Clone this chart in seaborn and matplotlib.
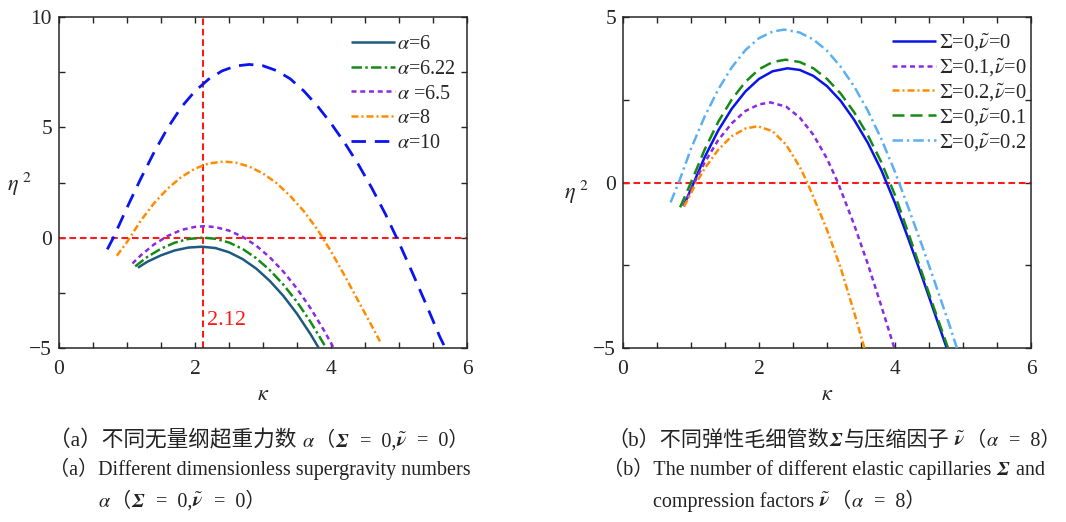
import matplotlib
matplotlib.use("Agg")
import matplotlib.pyplot as plt
from matplotlib.ticker import MultipleLocator
from matplotlib.offsetbox import TextArea, HPacker, AnchoredOffsetbox
import seaborn as sns

# ---------------- panel (a): different supergravity numbers alpha ----------------
kappa_a6 = [1.16, 1.3, 1.5, 1.7, 1.9, 2.1, 2.3, 2.5, 2.7, 2.9, 3.1, 3.3, 3.5, 3.7, 3.82]
eta_a6 = [-1.36, -1.09, -0.80, -0.58, -0.45, -0.41, -0.47, -0.66, -0.97, -1.40, -1.96,
          -2.64, -3.45, -4.38, -5.0]

kappa_a622 = [1.12, 1.3, 1.5, 1.7, 1.9, 2.12, 2.3, 2.5, 2.7, 2.9, 3.1, 3.3, 3.5, 3.7, 3.93]
eta_a622 = [-1.30, -0.87, -0.50, -0.23, -0.06, 0.0, -0.05, -0.22, -0.51, -0.93, -1.47,
            -2.13, -2.91, -3.82, -5.0]

kappa_a65 = [1.08, 1.2, 1.4, 1.6, 1.8, 2.0, 2.14, 2.3, 2.5, 2.7, 2.9, 3.1, 3.3, 3.5, 3.7,
             3.9, 4.04]
eta_a65 = [-1.17, -0.81, -0.30, 0.08, 0.35, 0.49, 0.52, 0.48, 0.32, 0.04, -0.36, -0.89,
           -1.54, -2.31, -3.20, -4.22, -5.0]

kappa_a8 = [0.85, 1.0, 1.2, 1.4, 1.6, 1.8, 2.0, 2.2, 2.42, 2.6, 2.8, 3.0, 3.2, 3.4, 3.6,
            3.8, 4.0, 4.2, 4.4, 4.6, 4.72]
eta_a8 = [-0.82, -0.20, 0.76, 1.57, 2.23, 2.75, 3.13, 3.36, 3.45, 3.40, 3.22, 2.91, 2.47,
          1.89, 1.20, 0.37, -0.62, -1.72, -2.86, -4.0, -4.7]

kappa_a10 = [0.71, 0.8, 1.0, 1.2, 1.4, 1.6, 1.8, 2.0, 2.2, 2.4, 2.6, 2.8, 3.0, 3.2, 3.4,
             3.6, 3.8, 4.0, 4.2, 4.4, 4.6, 4.8, 5.0, 5.2, 5.4, 5.6, 5.68]
eta_a10 = [-0.53, 0.0, 1.36, 2.66, 3.88, 4.98, 5.92, 6.64, 7.18, 7.56, 7.78, 7.85, 7.79,
           7.57, 7.20, 6.65, 5.97, 5.18, 4.30, 3.33, 2.25, 1.07, -0.23, -1.61, -3.03,
           -4.49, -5.0]

labels_a = [r"$\alpha$=6", r"$\alpha$=6.22", r"$\alpha$ =6.5", r"$\alpha$=8", r"$\alpha$=10"]
kappa_marker = 2.12

# ---------------- panel (b): elastic capillary number Sigma and compression factor nu ----------------
kappa_s0n0 = [0.89, 1.0, 1.2, 1.4, 1.6, 1.8, 2.0, 2.2, 2.42, 2.6, 2.8, 3.0, 3.2, 3.4, 3.6,
              3.8, 4.0, 4.2, 4.4, 4.6, 4.76]
eta_s0n0 = [-0.71, -0.20, 0.76, 1.57, 2.23, 2.75, 3.13, 3.36, 3.45, 3.40, 3.22, 2.91, 2.47,
            1.89, 1.20, 0.37, -0.62, -1.72, -2.86, -4.05, -5.0]

kappa_s01n0 = [0.89, 1.05, 1.2, 1.4, 1.6, 1.8, 2.0, 2.17, 2.4, 2.6, 2.8, 3.0, 3.16, 3.4,
               3.6, 3.8, 3.99]
eta_s01n0 = [-0.72, 0.0, 0.60, 1.28, 1.79, 2.16, 2.36, 2.42, 2.29, 1.96, 1.44, 0.72, 0.0,
             -1.28, -2.46, -3.74, -5.0]

kappa_s02n0 = [0.90, 1.08, 1.2, 1.4, 1.6, 1.8, 1.98, 2.2, 2.4, 2.6, 2.71, 2.8, 3.0, 3.2,
               3.4, 3.55]
eta_s02n0 = [-0.72, 0.0, 0.42, 0.99, 1.40, 1.63, 1.70, 1.55, 1.14, 0.47, 0.0, -0.44,
             -1.43, -2.57, -3.93, -5.0]

kappa_s0n01 = [0.84, 1.0, 1.2, 1.4, 1.6, 1.8, 2.0, 2.2, 2.39, 2.6, 2.8, 3.0, 3.2, 3.4,
               3.6, 3.8, 4.0, 4.2, 4.4, 4.6, 4.78]
eta_s0n01 = [-0.75, 0.0, 0.99, 1.83, 2.51, 3.04, 3.42, 3.64, 3.71, 3.64, 3.45, 3.13,
             2.69, 2.12, 1.43, 0.61, -0.38, -1.55, -2.75, -3.95, -5.0]

kappa_s0n02 = [0.70, 0.82, 1.0, 1.2, 1.4, 1.6, 1.8, 2.0, 2.2, 2.37, 2.6, 2.8, 3.0, 3.2,
               3.4, 3.6, 3.8, 4.0, 4.2, 4.4, 4.6, 4.8, 4.91]
eta_s0n02 = [-0.60, 0.0, 1.02, 1.99, 2.81, 3.48, 4.00, 4.36, 4.56, 4.62, 4.53, 4.32,
             3.98, 3.50, 2.90, 2.17, 1.31, 0.32, -0.78, -1.92, -3.10, -4.30, -5.0]

labels_b = [r"$\mathit{\Sigma}$=0,$\tilde{\nu}$=0",
            r"$\mathit{\Sigma}$=0.1,$\tilde{\nu}$=0",
            r"$\mathit{\Sigma}$=0.2,$\tilde{\nu}$=0",
            r"$\mathit{\Sigma}$=0,$\tilde{\nu}$=0.1",
            r"$\mathit{\Sigma}$=0,$\tilde{\nu}$=0.2"]

# ---------------- style ----------------
sns.set_theme(style="ticks")
plt.rcParams["font.family"] = ["Liberation Serif", "Noto Sans CJK SC"]
plt.rcParams["mathtext.fontset"] = "stix"
plt.rcParams["axes.unicode_minus"] = True

SERIF_CJK = ["Liberation Serif", "Noto Sans CJK SC"]
RED = "#ff1a1a"
INK = "#222222"

fig = plt.figure(figsize=(10.66, 5.22), dpi=100)
ax_a = fig.add_axes([59 / 1066, 174 / 522, 408 / 1066, 331 / 522])
ax_b = fig.add_axes([623 / 1066, 174 / 522, 408 / 1066, 331 / 522])


def curve(ax, k, e, color, dashes, label, lw=1.8):
    sns.lineplot(x=k, y=e, ax=ax, color=color, linewidth=lw, sort=False,
                 estimator=None, label=label, legend=False, zorder=3)
    line = ax.lines[-1]
    if dashes is not None:
        line.set_dashes(dashes)
    line.set_solid_capstyle("butt")
    line.set_dash_capstyle("butt")
    return line


def style_axes(ax, ymin, ymax):
    ax.set_xlim(0, 6)
    ax.set_ylim(ymin, ymax)
    ax.xaxis.set_major_locator(MultipleLocator(2))
    ax.xaxis.set_minor_locator(MultipleLocator(0.5))
    ax.yaxis.set_major_locator(MultipleLocator(5))
    ax.yaxis.set_minor_locator(MultipleLocator(2.5))
    ax.tick_params(which="both", direction="in", top=True, right=True,
                   length=4.5, width=1.0, color="0.15")
    ax.tick_params(axis="x", which="major", labelsize=15.5, pad=8.5)
    ax.tick_params(axis="y", which="major", labelsize=15.5, pad=5)
    for sp in ax.spines.values():
        sp.set_color("0.15")
        sp.set_linewidth(1.1)
        sp.set_visible(True)
    ax.set_xlabel(r"$\kappa$", fontsize=16)
    ax.set_ylabel(r"$\eta^{\ 2}$", fontsize=16, rotation=0, va="center", ha="center")
    ax.axhline(0, color=RED, lw=1.5, ls=(0, (3.2, 1.8)), zorder=1.5)


# panel (a)
style_axes(ax_a, -5, 10)
ax_a.axvline(kappa_marker, color=RED, lw=1.5, ls=(0, (3.2, 1.8)), zorder=1.5)
lines_a = [
    curve(ax_a, kappa_a6, eta_a6, "#1d5a7e", None, labels_a[0]),
    curve(ax_a, kappa_a622, eta_a622, "#168a16", (4.2, 1.3, 1.0, 1.3), labels_a[1]),
    curve(ax_a, kappa_a65, eta_a65, "#8a2be2", (2.0, 1.5), labels_a[2]),
    curve(ax_a, kappa_a8, eta_a8, "#ff8c00", (2.8, 1.2, 0.8, 1.2), labels_a[3]),
    curve(ax_a, kappa_a10, eta_a10, "#0a14f0", (5.2, 3.2), labels_a[4], lw=2.0),
]
ax_a.text(kappa_marker + 0.06, -3.75, f"{kappa_marker:.2f}", color=RED, fontsize=16,
          va="center", ha="left")
ax_a.legend(handles=lines_a, loc="upper left", bbox_to_anchor=(0.715, 0.947),
            frameon=False, fontsize=14.5, handlelength=2.2, handletextpad=0.1,
            labelspacing=0.29, borderpad=0, borderaxespad=0)
ax_a.xaxis.set_label_coords(0.5, -0.115)
ax_a.yaxis.set_label_coords(-0.096, 0.495)

# panel (b)
style_axes(ax_b, -5, 5)
lines_b = [
    curve(ax_b, kappa_s0n0, eta_s0n0, "#0a14e6", None, labels_b[0]),
    curve(ax_b, kappa_s01n0, eta_s01n0, "#8a2be2", (2.0, 1.5), labels_b[1]),
    curve(ax_b, kappa_s02n0, eta_s02n0, "#ff8c00", (2.8, 1.2, 0.8, 1.2), labels_b[2]),
    curve(ax_b, kappa_s0n01, eta_s0n01, "#168a16", (4.8, 2.4), labels_b[3]),
    curve(ax_b, kappa_s0n02, eta_s0n02, "#5ab0f0", (4.2, 1.6, 0.9, 1.6), labels_b[4]),
]
ax_b.legend(handles=lines_b, loc="upper left", bbox_to_anchor=(0.66, 0.957),
            frameon=False, fontsize=14.8, handlelength=2.15, handletextpad=0.1,
            labelspacing=0.145, borderpad=0, borderaxespad=0)
ax_b.xaxis.set_label_coords(0.5, -0.115)
ax_b.yaxis.set_label_coords(-0.115, 0.471)


# captions: plain pieces use the serif/CJK family list, math pieces use mathtext;
# a piece given as (text, size) overrides the line's font size
def caption(x_px, y_px, pieces, size):
    boxes = []
    for p in pieces:
        s, sz = (p if isinstance(p, tuple) else (p, size))
        props = dict(fontsize=sz, color=INK)
        if "$" not in s:
            props["family"] = SERIF_CJK
        boxes.append(TextArea(s, textprops=props))
    row = HPacker(children=boxes, align="baseline", pad=0, sep=0)
    box = AnchoredOffsetbox(loc="center left", child=row, pad=0, borderpad=0,
                            frameon=False, bbox_to_anchor=(x_px / 1066, 1 - y_px / 522),
                            bbox_transform=fig.transFigure)
    fig.add_artist(box)


SIG = r"$\mathbfit{\Sigma}$"
NU = r"$\tilde{\mathbfit{\nu}}$"
ALPHA = r"$\alpha$"
CJK = 15.6

caption(49, 441, [("（a）不同无量纲超重力数 ", CJK), ALPHA, "（", SIG, "  =  0,", NU,
                  "  =  0）"], 14.5)
caption(49, 469, ["（a）Different dimensionless supergravity numbers"], 14.5)
caption(98, 502, [ALPHA, "（", SIG, "  =  0,", NU, "  =  0）"], 14.5)
caption(607, 441, [("（b）不同弹性毛细管数", 15.2), SIG, ("与压缩因子", 15.2), " ", NU, "（",
                   ALPHA, "  =  8）"], 14.5)
caption(603, 469, ["（b）The number of different elastic capillaries ", SIG, " and"], 14.5)
caption(653, 502, ["compression factors ", NU, "（", ALPHA, "  =  8）"], 14.5)

fig.savefig("out.png", dpi=100, facecolor="white")
